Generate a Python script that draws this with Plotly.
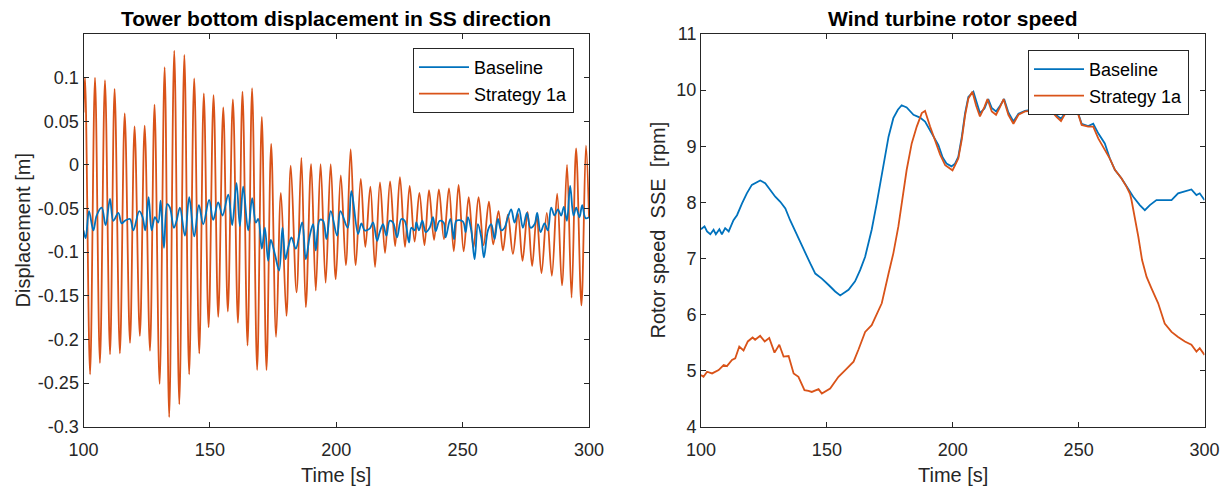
import plotly.graph_objects as go

# ---------------- Data ----------------
# Left panel: tower bottom displacement (extrema of the oscillations)
t_disp_strat = [100.0, 100.6, 102.6, 104.55, 106.5, 108.5, 110.5, 112.3, 114.4, 116.3, 118.4, 120.2,
                122.3, 124.2, 126.3, 128.1, 130.1, 132.1, 133.9, 135.9, 137.9, 139.9, 141.8, 143.8,
                145.8, 147.6, 149.5, 151.45, 153.3, 155.3, 157.1, 159.1, 161.1, 162.9, 164.9, 166.7,
                168.7, 170.55, 172.4, 174.25, 176.2, 178.1, 180.3, 182.0, 184.3, 186.2, 187.95, 190.05,
                191.9, 193.8, 195.8, 197.8, 199.8, 201.8, 203.8, 205.7, 207.7, 209.7, 211.5, 213.5,
                215.35, 217.3, 219.3, 221.3, 223.3, 225.2, 227.2, 229.05, 231.0, 232.9, 234.9, 236.7,
                238.7, 240.6, 242.6, 244.6, 246.5, 248.4, 250.4, 252.4, 254.3, 256.3, 258.3, 260.4,
                262.1, 264.2, 265.95, 267.9, 269.9, 271.9, 273.7, 275.7, 277.5, 279.3, 281.2, 283.3,
                285.3, 287.4, 289.3, 291.3, 293.1, 294.9, 297.0, 298.8, 300.0]
disp_strat = [0.06, 0.100, -0.240, 0.100, -0.227, 0.097, -0.217, 0.087, -0.216, 0.059, -0.204, 0.044,
              -0.196, 0.045, -0.213, 0.069, -0.251, 0.112, -0.289, 0.131, -0.2745, 0.126, -0.240, 0.099,
              -0.216, 0.082, -0.186, 0.080, -0.174, 0.066, -0.168, 0.075, -0.181, 0.084, -0.207, 0.088,
              -0.235, 0.055, -0.235, 0.024, -0.197, -0.032, -0.173, -0.001, -0.146, 0.008, -0.163, 0.001,
              -0.144, 0.001, -0.135, 0.001, -0.131, -0.012, -0.115, 0.018, -0.115, -0.016, -0.094, -0.025,
              -0.117, -0.020, -0.101, -0.019, -0.093, -0.014, -0.094, -0.024, -0.088, -0.032, -0.092, -0.029,
              -0.086, -0.028, -0.085, -0.027, -0.099, -0.023, -0.099, -0.037, -0.095, -0.037, -0.092, -0.042,
              -0.091, -0.053, -0.098, -0.057, -0.102, -0.056, -0.110, -0.054, -0.116, -0.058, -0.124, -0.055,
              -0.127, -0.033, -0.138, 0.000, -0.152, 0.019, -0.161, 0.022, -0.060]

t_disp_base = [100.0, 100.86, 102.18, 103.89, 105.21, 107.2, 108.76, 110.48, 111.8, 113.77, 115.09, 116.4,
               118.38, 119.7, 122.07, 123.39, 124.44, 125.76, 126.95, 128.26, 129.58, 130.5, 131.82, 133.14,
               134.19, 135.77, 136.83, 138.15, 140.12, 141.83, 143.81, 145.66, 147.37, 149.7, 151.32, 153.3,
               155.0, 157.25, 158.83, 160.54, 161.86, 163.18, 165.15, 166.74, 168.18, 169.11, 170.56, 171.74,
               173.06, 174.11, 175.69, 177.41, 178.72, 179.91, 180.96, 182.28, 183.99, 186.5, 187.95, 189.53,
               190.85, 191.9, 193.48, 194.8, 196.12, 197.83, 200.33, 201.65, 204.55, 206.0, 208.63, 209.95,
               211.27, 213.24, 214.56, 216.14, 217.2, 218.51, 219.83, 221.15, 222.47, 224.05, 225.76, 227.08,
               228.79, 229.71, 231.03, 231.69, 232.74, 234.06, 235.38, 236.96, 238.28, 239.33, 240.91, 242.49,
               243.28, 245.13, 246.6, 247.5, 250.13, 251.18, 252.1, 253.42, 254.74, 256.06, 257.38, 258.43,
               260.01, 261.33, 262.65, 263.96, 265.28, 266.6, 267.92, 269.23, 270.55, 272.26, 273.85, 275.43,
               276.88, 278.46, 279.51, 280.83, 282.41, 283.73, 285.04, 286.36, 287.68, 289.0, 290.05, 291.24,
               292.55, 293.87, 294.93, 296.24, 297.3, 298.62, 300.0]
disp_base = [-0.075, -0.084, -0.053, -0.075, -0.058, -0.049, -0.069, -0.039, -0.064, -0.055, -0.067, -0.064,
             -0.062, -0.075, -0.053, -0.060, -0.075, -0.037, -0.075, -0.060, -0.066, -0.041, -0.095, -0.045,
             -0.049, -0.072, -0.064, -0.049, -0.081, -0.037, -0.082, -0.046, -0.068, -0.040, -0.063, -0.043,
             -0.058, -0.034, -0.069, -0.021, -0.070, -0.025, -0.075, -0.038, -0.066, -0.062, -0.096, -0.072,
             -0.110, -0.086, -0.102, -0.121, -0.072, -0.108, -0.095, -0.083, -0.096, -0.066, -0.108, -0.081,
             -0.068, -0.098, -0.063, -0.064, -0.085, -0.053, -0.081, -0.053, -0.072, -0.030, -0.079, -0.067,
             -0.075, -0.073, -0.066, -0.087, -0.077, -0.068, -0.081, -0.064, -0.066, -0.083, -0.062, -0.064,
             -0.089, -0.072, -0.075, -0.066, -0.075, -0.064, -0.077, -0.072, -0.060, -0.076, -0.064, -0.066,
             -0.083, -0.062, -0.085, -0.064, -0.065, -0.077, -0.060, -0.075, -0.108, -0.068, -0.083, -0.106,
             -0.075, -0.068, -0.085, -0.062, -0.075, -0.072, -0.060, -0.051, -0.066, -0.050, -0.072, -0.055,
             -0.072, -0.068, -0.055, -0.077, -0.067, -0.075, -0.049, -0.058, -0.051, -0.058, -0.048, -0.064,
             -0.024, -0.058, -0.049, -0.060, -0.046, -0.061, -0.060]

# Right panel: rotor speed [rpm]
t_rot_base = [100.0, 101.4, 102.4, 103.7, 105.0, 105.9, 107.3, 108.3, 109.6, 111.0, 112.9, 114.3, 116.3,
              118.2, 120.2, 123.5, 125.5, 127.5, 129.5, 131.5, 133.5, 135.4, 137.4, 139.4, 141.4, 143.4,
              145.4, 148.0, 150.6, 153.3, 155.3, 157.3, 158.6, 161.2, 163.2, 165.2, 167.8, 169.8, 172.5,
              174.5, 176.4, 178.2, 179.7, 181.7, 184.4, 187.0, 189.0, 191.7, 194.3, 196.0, 197.5, 199.5,
              200.9, 202.2, 203.6, 204.9, 206.2, 208.2, 209.5, 210.8, 212.6, 214.1, 215.5, 217.2, 218.8,
              220.4, 222.1, 224.1, 226.1, 228.7, 231.3, 234.0, 236.6, 239.3, 241.3, 243.0, 245.2, 246.6,
              247.5, 249.2, 251.2, 253.8, 255.8, 257.8, 260.4, 262.4, 264.4, 267.0, 269.0, 271.7, 274.3,
              276.3, 278.3, 280.9, 284.2, 286.9, 289.5, 292.2, 294.8, 296.8, 298.1, 300.0]
rot_base = [7.52, 7.57, 7.48, 7.43, 7.51, 7.43, 7.52, 7.43, 7.54, 7.48, 7.68, 7.77, 7.98,
            8.16, 8.31, 8.39, 8.34, 8.22, 8.10, 8.01, 7.89, 7.68, 7.48, 7.30, 7.08, 6.91,
            6.73, 6.64, 6.53, 6.41, 6.34, 6.41, 6.44, 6.59, 6.79, 7.03, 7.51, 7.98, 8.69,
            9.17, 9.50, 9.65, 9.73, 9.69, 9.56, 9.51, 9.44, 9.23, 9.02, 8.80, 8.69, 8.64,
            8.69, 8.81, 9.17, 9.59, 9.88, 9.97, 9.80, 9.59, 9.67, 9.84, 9.68, 9.62, 9.72,
            9.84, 9.60, 9.44, 9.58, 9.63, 9.65, 9.60, 9.63, 9.64, 9.55, 9.49, 9.63, 9.72,
            9.80, 9.67, 9.40, 9.36, 9.40, 9.23, 9.05, 8.78, 8.58, 8.43, 8.28, 8.10, 7.95,
            7.86, 7.95, 8.04, 8.04, 8.04, 8.16, 8.19, 8.23, 8.13, 8.16, 8.04]

t_rot_strat = [100.0, 101.0, 102.4, 104.4, 107.0, 109.0, 110.3, 112.3, 113.6, 115.2, 116.9, 118.6, 120.5,
               121.5, 123.5, 125.3, 127.1, 129.2, 131.1, 132.8, 134.8, 136.8, 138.7, 141.1, 142.7, 144.0,
               146.7, 148.0, 151.3, 154.6, 157.3, 160.6, 162.6, 165.2, 167.8, 169.8, 171.8, 174.5, 176.4,
               178.4, 180.0, 181.7, 183.7, 185.7, 187.7, 189.0, 191.0, 193.0, 195.0, 197.0, 198.9, 199.9,
               200.9, 202.2, 203.6, 204.9, 206.2, 207.8, 209.3, 210.8, 212.6, 213.8, 215.5, 217.2, 218.8,
               220.2, 222.1, 224.1, 226.1, 228.7, 231.3, 234.0, 236.6, 239.3, 241.3, 243.0, 245.2, 246.6,
               247.5, 249.2, 251.2, 253.8, 255.8, 257.8, 260.4, 262.4, 264.4, 267.0, 269.0, 270.4, 271.0,
               272.3, 273.7, 275.2, 277.0, 278.9, 281.6, 284.2, 286.9, 289.5, 292.2, 294.8, 296.8, 298.1, 300.0]
rot_strat = [4.92, 4.89, 4.98, 4.95, 5.01, 5.10, 5.08, 5.19, 5.22, 5.43, 5.36, 5.52, 5.59,
             5.55, 5.62, 5.52, 5.58, 5.32, 5.46, 5.25, 5.26, 4.95, 4.89, 4.65, 4.64, 4.62,
             4.67, 4.59, 4.68, 4.89, 5.01, 5.16, 5.38, 5.69, 5.81, 6.02, 6.20, 6.73, 7.09,
             7.57, 8.10, 8.58, 9.05, 9.35, 9.59, 9.63, 9.35, 9.11, 8.85, 8.66, 8.60, 8.57,
             8.66, 8.78, 9.12, 9.55, 9.85, 9.97, 9.72, 9.53, 9.70, 9.84, 9.62, 9.56, 9.70,
             9.84, 9.56, 9.40, 9.56, 9.62, 9.63, 9.58, 9.62, 9.62, 9.52, 9.45, 9.62, 9.72,
             9.80, 9.66, 9.38, 9.35, 9.35, 9.14, 8.93, 8.78, 8.58, 8.43, 8.28, 8.15, 8.04,
             7.74, 7.39, 6.97, 6.67, 6.47, 6.20, 5.84, 5.69, 5.60, 5.52, 5.46, 5.34, 5.40, 5.28]

x_ticks = [100, 150, 200, 250, 300]
left_y_ticks = [-0.3, -0.25, -0.2, -0.15, -0.1, -0.05, 0, 0.05, 0.1]
left_y_labels = ["-0.3", "-0.25", "-0.2", "-0.15", "-0.1", "-0.05", "0", "0.05", "0.1"]
right_y_ticks = [4, 5, 6, 7, 8, 9, 10, 11]

series_names = ["Baseline", "Strategy 1a"]
titles = ["Tower bottom displacement in SS direction", "Wind turbine rotor speed"]
x_label = "Time [s]"
y_labels = ["Displacement [m]", "Rotor speed  SSE  [rpm]"]

# ---------------- Figure ----------------
W, H = 1228, 489
BLUE = "#0072BD"
ORANGE = "#D95319"
AX = "#262626"
FONT = "Liberation Sans, Arial, Helvetica, sans-serif"

fig = go.Figure()

fig.add_trace(go.Scatter(x=t_disp_strat, y=disp_strat, mode="lines", name=series_names[1],
                         line=dict(color=ORANGE, width=1.8, shape="spline", smoothing=1.0),
                         xaxis="x", yaxis="y", legend="legend"))
fig.add_trace(go.Scatter(x=t_disp_base, y=disp_base, mode="lines", name=series_names[0],
                         line=dict(color=BLUE, width=1.8, shape="spline", smoothing=1.0),
                         xaxis="x", yaxis="y", legend="legend"))
fig.add_trace(go.Scatter(x=t_rot_base, y=rot_base, mode="lines", name=series_names[0],
                         line=dict(color=BLUE, width=1.8),
                         xaxis="x2", yaxis="y2", legend="legend2"))
fig.add_trace(go.Scatter(x=t_rot_strat, y=rot_strat, mode="lines", name=series_names[1],
                         line=dict(color=ORANGE, width=1.8),
                         xaxis="x2", yaxis="y2", legend="legend2"))

ax_common = dict(showline=True, linecolor=AX, linewidth=1, mirror="allticks",
                 ticks="inside", ticklen=5, tickcolor=AX, tickwidth=1,
                 showgrid=False, zeroline=False, automargin=False,
                 tickfont=dict(family=FONT, size=18, color=AX))

y0 = (H - 426.7) / H
y1 = (H - 34) / H
fig.update_layout(
    width=W, height=H,
    margin=dict(l=0, r=0, t=0, b=0),
    paper_bgcolor="white", plot_bgcolor="white",
    font=dict(family=FONT, color=AX),
    xaxis=dict(domain=[83.5 / W, 589 / W], range=[100, 300], tickvals=x_ticks, anchor="y",
               ticklabelstandoff=7, **ax_common),
    yaxis=dict(domain=[y0, y1], range=[-0.3, 0.15], tickvals=left_y_ticks, ticktext=left_y_labels,
               anchor="x", **ax_common),
    xaxis2=dict(domain=[701 / W, 1204.5 / W], range=[100, 300], tickvals=x_ticks, anchor="y2",
                ticklabelstandoff=7, **ax_common),
    yaxis2=dict(domain=[y0, y1], range=[4, 11], tickvals=right_y_ticks, anchor="x2", **ax_common),
    legend=dict(x=574 / W, y=(H - 48) / H, xanchor="right", yanchor="top",
                bgcolor="white", bordercolor=AX, borderwidth=1,
                font=dict(family=FONT, size=18, color="black"),
                traceorder="reversed", itemwidth=50, tracegroupgap=0),
    legend2=dict(x=1189 / W, y=(H - 50) / H, xanchor="right", yanchor="top",
                 bgcolor="white", bordercolor=AX, borderwidth=1,
                 font=dict(family=FONT, size=18, color="black"),
                 traceorder="normal", itemwidth=50, tracegroupgap=0),
    showlegend=True,
)

ann = []
for cx, title in [((83.5 + 589) / 2, titles[0]), ((701 + 1204.5) / 2, titles[1])]:
    ann.append(dict(x=cx / W, y=(H - 19) / H, xref="paper", yref="paper", text="<b>" + title + "</b>",
                    showarrow=False, xanchor="center", yanchor="middle",
                    font=dict(family=FONT, size=21, color="black")))
    ann.append(dict(x=cx / W, y=(H - 475) / H, xref="paper", yref="paper", text=x_label,
                    showarrow=False, xanchor="center", yanchor="middle",
                    font=dict(family=FONT, size=20, color=AX)))
for lx, lab in [(22, y_labels[0]), (657, y_labels[1])]:
    ann.append(dict(x=lx / W, y=(H - 230.5) / H, xref="paper", yref="paper", text=lab,
                    showarrow=False, xanchor="center", yanchor="middle", textangle=-90,
                    font=dict(family=FONT, size=20, color=AX)))
fig.update_layout(annotations=ann)

fig.write_html("out.html")
